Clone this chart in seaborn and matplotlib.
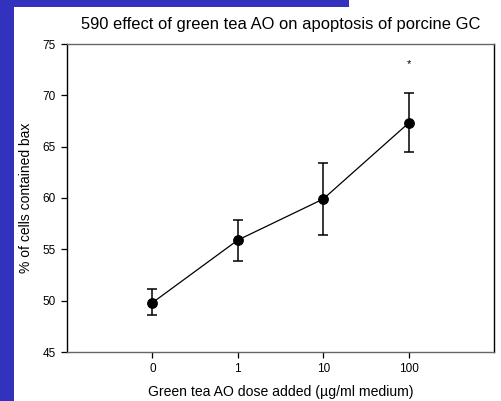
import matplotlib
matplotlib.use("Agg")
import matplotlib.pyplot as plt
import seaborn as sns
import pandas as pd

doses = ["0", "1", "10", "100"]
bax_pct = [49.8, 55.9, 59.9, 67.3]
err_low = [48.6, 53.9, 56.4, 64.45]
err_high = [51.1, 57.9, 63.4, 70.2]
star_dose_index = 3
star_value = 73.0

sns.set_theme(style="white")
plt.rcParams["font.family"] = ["Liberation Sans", "DejaVu Sans"]
plt.rcParams["text.color"] = "black"
plt.rcParams["axes.labelcolor"] = "black"

positions = list(range(1, len(doses) + 1))
df = pd.DataFrame({"pos": positions, "bax": bax_pct})

fig = plt.figure(figsize=(5.02, 4.01), dpi=100)
fig.patch.set_facecolor("white")
blue = "#3232BE"
fig.patches.append(plt.Rectangle((0, 0), 14 / 502, 1, transform=fig.transFigure,
                                 facecolor=blue, edgecolor="none", zorder=0))
fig.patches.append(plt.Rectangle((0, 1 - 7 / 401), 349 / 502, 7 / 401, transform=fig.transFigure,
                                 facecolor=blue, edgecolor="none", zorder=0))

ax = fig.add_axes([67 / 502, 1 - 352 / 401, (494 - 67) / 502, (352 - 44) / 401])

sns.lineplot(data=df, x="pos", y="bax", ax=ax, color="black", linewidth=0.9,
             marker="o", markersize=7, markeredgecolor="black", zorder=3)
yerr = [[b - l for b, l in zip(bax_pct, err_low)], [h - b for b, h in zip(bax_pct, err_high)]]
ax.errorbar(positions, bax_pct, yerr=yerr, fmt="none", ecolor="black",
            elinewidth=1.1, capsize=3.6, capthick=1.1, zorder=2)
ax.text(positions[star_dose_index], star_value, "*", ha="center", va="center",
        fontsize=8, color="black")

ax.set_xlim(0, 5)
ax.set_ylim(45, 75)
ax.set_xticks(positions)
ax.set_xticklabels(doses)
ax.set_yticks([45, 50, 55, 60, 65, 70, 75])

for side in ["left", "right", "top", "bottom"]:
    ax.spines[side].set_visible(True)
    ax.spines[side].set_linewidth(1.0)
ax.spines["left"].set_color("black")
ax.spines["right"].set_color("black")
ax.spines["top"].set_color("#666666")
ax.spines["bottom"].set_color("#666666")

ax.tick_params(axis="both", direction="out", length=4, width=0.9, colors="black",
               labelsize=8.5, pad=4, bottom=True, left=True)

ax.set_xlabel("Green tea AO dose added (µg/ml medium)", fontsize=10.1, labelpad=7)
ax.set_ylabel("% of cells contained bax", fontsize=10.0, labelpad=7)
ax.set_title("590 effect of green tea AO on apoptosis of porcine GC", fontsize=11.9,
             pad=11, color="black")

fig.savefig("out.png", dpi=100, facecolor="white")
